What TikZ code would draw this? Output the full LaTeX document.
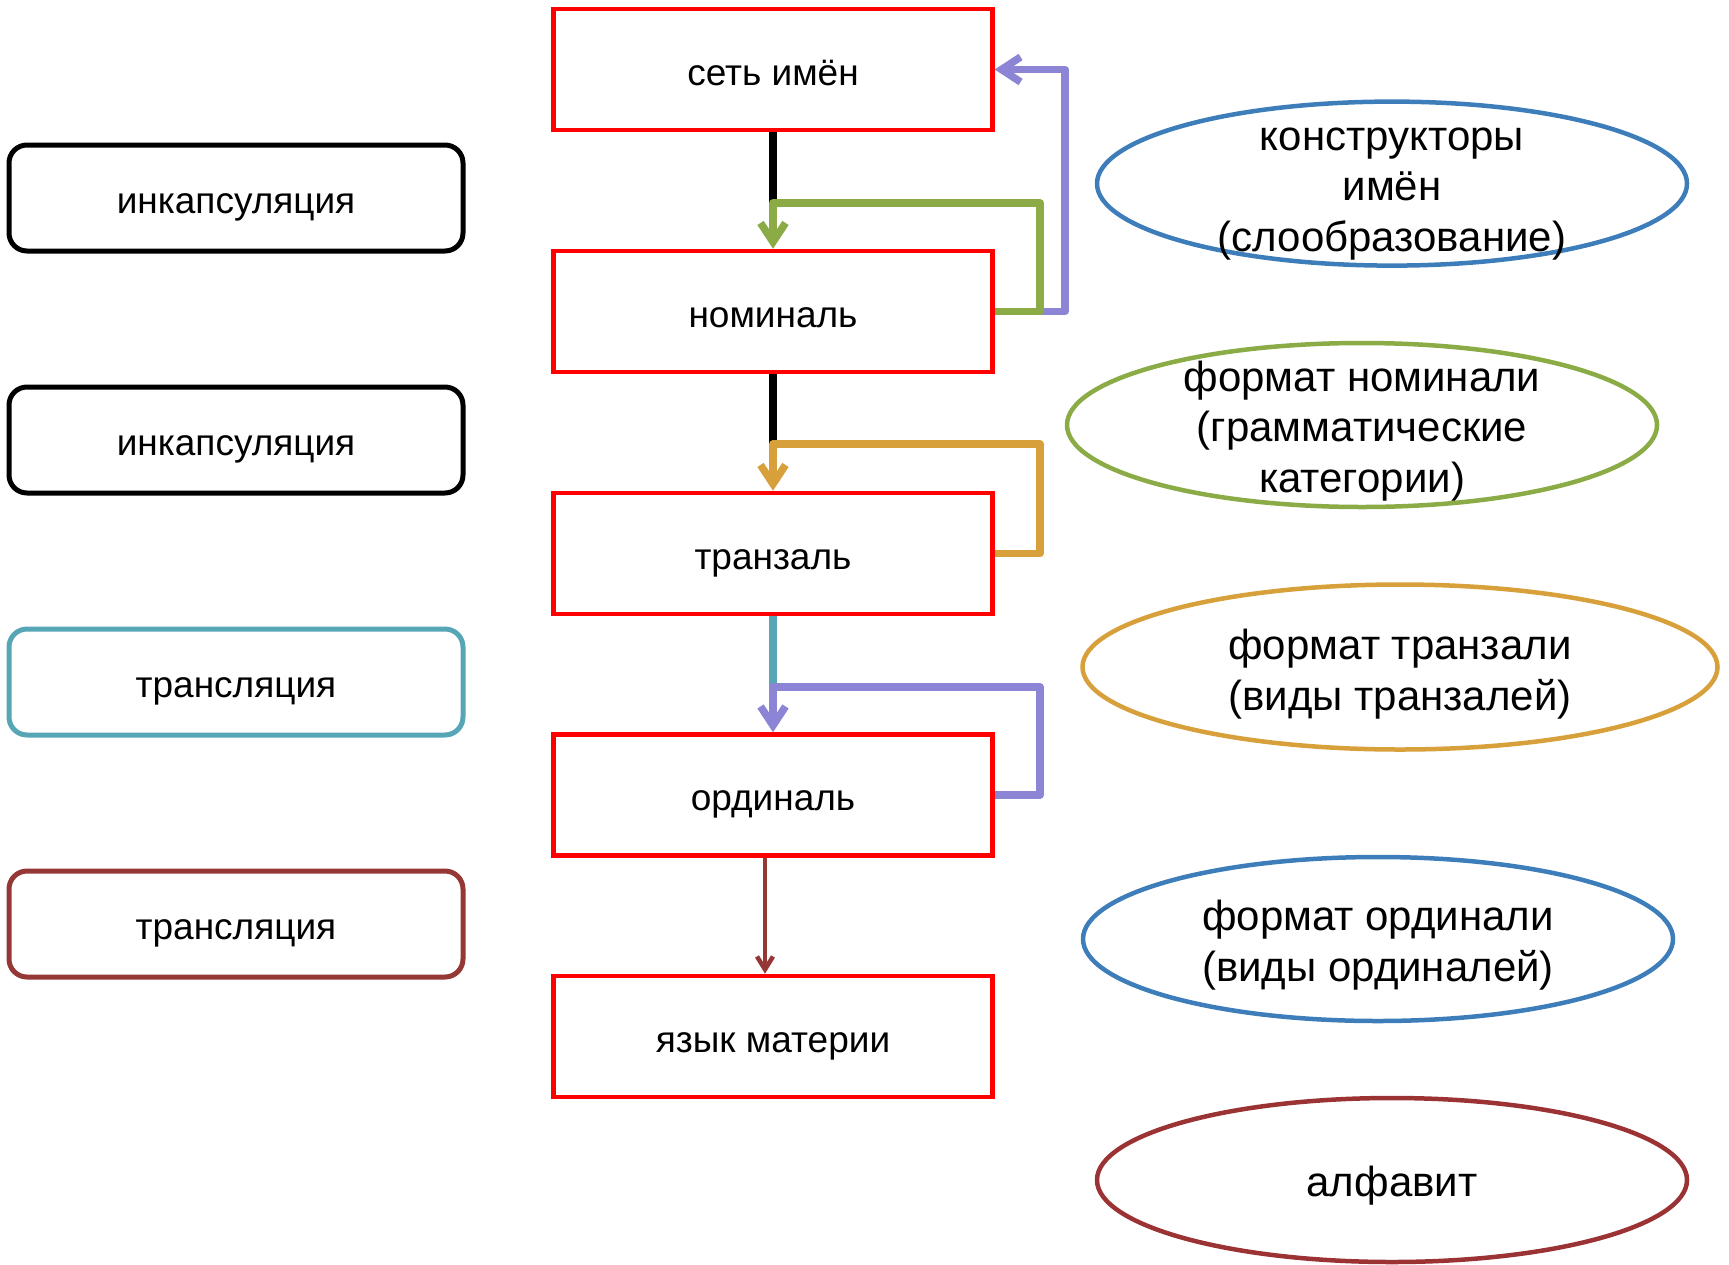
\documentclass[tikz,border=0pt]{standalone}
\usepackage{fontspec}
\setmainfont{Liberation Sans}
\usetikzlibrary{arrows.meta,shapes.geometric}
\definecolor{boxred}{RGB}{255,0,0}
\definecolor{cgreen}{RGB}{138,171,69}
\definecolor{cpurple}{RGB}{140,132,212}
\definecolor{corange}{RGB}{215,160,58}
\definecolor{cteal}{RGB}{87,166,181}
\definecolor{cdarkred}{RGB}{149,55,53}
\definecolor{cblue}{RGB}{61,126,186}
\definecolor{ebrown}{RGB}{155,50,52}
\begin{document}
\begin{tikzpicture}[x=1pt,y=-1pt,
  boxtext/.style={font=\fontsize{37}{44}\selectfont, text height=33pt, text depth=2pt},
  level/.style={draw=boxred, line width=4.5pt, rectangle, minimum width=439pt, minimum height=121pt, inner sep=0pt, boxtext},
  side/.style={draw=#1, line width=5pt, rectangle, rounded corners=18pt, minimum width=454pt, minimum height=106pt, inner sep=0pt, boxtext},
  ovalb/.style={draw=#1, line width=4.5pt, ellipse, inner sep=0pt},
  etext/.style={align=center, inner sep=0pt, font=\fontsize{42}{50.5}\selectfont},
  loop/.style={draw=#1, line width=7.5pt, line join=round, -{Straight Barb[length=19pt,width=25pt,line join=miter,line cap=butt]}},
  plain/.style={draw=#1, line width=7.5pt}
]
\useasboundingbox (0,0) rectangle (1729,1264);

% central chain
\node[level] (n1) at (773,69.5) {сеть имён};
\node[level] (n2) at (773,311.5) {номиналь};
\node[level] (n3) at (773,553.5) {транзаль};
\node[level] (n4) at (773,795) {ординаль};
\node[level] (n5) at (773,1036.5) {язык материи};

% left boxes
\node[side=black] (s1) at (236,198) {инкапсуляция};
\node[side=black] (s2) at (236,440) {инкапсуляция};
\node[side=cteal] (s3) at (236,682) {трансляция};
\node[side=cdarkred] (s4) at (236,924) {трансляция};

% ellipses
\node[ovalb=cblue, minimum width=590pt, minimum height=164pt] (e1) at (1392,183.6) {};
\node[ovalb=cgreen, minimum width=590pt, minimum height=164pt] (e2) at (1362,425) {};
\node[ovalb=corange, minimum width=635pt, minimum height=165pt] (e3) at (1400,667) {};
\node[ovalb=cblue, minimum width=590pt, minimum height=164pt] (e4) at (1378,939) {};
\node[ovalb=ebrown, minimum width=590pt, minimum height=164pt] (e5) at (1392,1180) {};

\node[etext] (t1) at ([yshift=-10pt]e1.center) {конструкторы\\имён\\(слообразование)};
\node[etext] (t2) at ([yshift=-6pt]e2.center) {формат номинали\\(грамматические\\категории)};
\node[etext] (t3) at ([yshift=-7pt]e3.center) {формат транзали\\(виды транзалей)};
\node[etext] (t4) at ([yshift=-6pt]e4.center) {формат ординали\\(виды ординалей)};
\node[etext] (t5) at ([yshift=-6pt]e5.center) {алфавит};

% corner coordinates
\coordinate (p1) at (1065,69.5);
\coordinate (g1) at (1040,203);
\coordinate (b1) at (773,203);
\coordinate (o1) at (1040,444);
\coordinate (b2) at (773,444);
\coordinate (q1) at (1040,687);
\coordinate (c1) at (773,687);

% vertical plain lines
\draw[plain=black] (n1.south) -- (b1);
\draw[plain=black] (n2.south) -- (b2);
\draw[plain=cteal] (n3.south) -- (c1);

% feedback loops
\draw[loop=cpurple] (n2.east) -| (p1) -- (n1.east);
\draw[loop=cgreen] (n2.east) -| (g1) -| (n2.north);
\draw[loop=corange] (n3.east) -| (o1) -| (n3.north);
\draw[loop=cpurple] (n4.east) -| (q1) -| (n4.north);

% final arrow
\draw[draw=cdarkred, line width=4.5pt, -{Straight Barb[length=13pt,width=16pt,line join=miter,line cap=butt]}] ([xshift=-8pt]n4.south) -- ([xshift=-8pt]n5.north);
\end{tikzpicture}
\end{document}
